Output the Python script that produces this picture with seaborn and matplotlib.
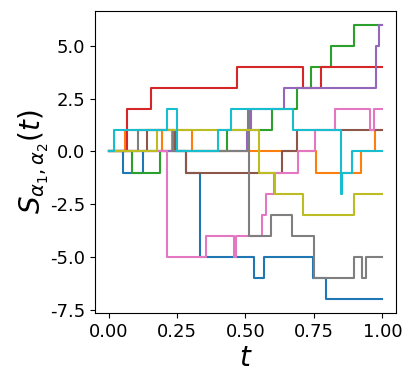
import numpy as np
import pandas as pd
import matplotlib
matplotlib.use("Agg")
import matplotlib.pyplot as plt
import seaborn as sns

# jump times and the value reached after each jump (value 0 at t=0)
blue_t   = [0.051, 0.124, 0.283, 0.333, 0.530, 0.569, 0.748, 0.796]
blue_v   = [-1, 0, -1, -5, -6, -5, -6, -7]
orange_t = [0.061, 0.196, 0.230, 0.305, 0.757, 0.922, 0.972]
orange_v = [1, 0, 1, 0, -1, 0, 1]
green_t  = [0.087, 0.187, 0.433, 0.596, 0.690, 0.738, 0.811, 0.896]
green_v  = [-1, 0, 1, 2, 3, 4, 5, 6]
red_t    = [0.067, 0.154, 0.469, 0.711, 0.775]
red_v    = [2, 3, 4, 3, 4]
purple_t = [0.505, 0.520, 0.639, 0.978, 0.988]
purple_v = [1, 2, 3, 5, 6]
brown_t  = [0.139, 0.241, 0.281, 0.633, 0.689]
brown_v  = [1, 0, -1, 0, 1]
pink_t   = [0.212, 0.357, 0.458, 0.466, 0.560, 0.576, 0.606, 0.693, 0.754, 0.827, 0.954, 0.968]
pink_v   = [-5, -4, -5, -4, -3, -2, -1, 0, 1, 2, 1, 2]
gray_t   = [0.108, 0.236, 0.509, 0.512, 0.593, 0.671, 0.750, 0.897, 0.927, 0.939]
gray_v   = [1, 0, 2, -4, -3, -4, -6, -5, -6, -5]
olive_t  = [0.176, 0.551, 0.608, 0.709, 0.897]
olive_v  = [1, -1, -2, -3, -2]
cyan_t   = [0.020, 0.212, 0.250, 0.400, 0.446, 0.673, 0.848, 0.851, 0.890]
cyan_v   = [1, 2, 0, 1, 2, 1, -2, -1, 0]

series = [(blue_t, blue_v), (orange_t, orange_v), (green_t, green_v),
          (red_t, red_v), (purple_t, purple_v), (brown_t, brown_v),
          (pink_t, pink_v), (gray_t, gray_v), (olive_t, olive_v),
          (cyan_t, cyan_v)]

xtick_vals = [0.0, 0.25, 0.5, 0.75, 1.0]
xtick_labels = ["0.00", "0.25", "0.50", "0.75", "1.00"]
ytick_vals = [-7.5, -5.0, -2.5, 0.0, 2.5, 5.0]
ytick_labels = ["-7.5", "-5.0", "-2.5", "0.0", "2.5", "5.0"]

rows = []
for k, (ts, vs) in enumerate(series):
    times = [0.0] + list(ts) + [1.0]
    vals = [0] + list(vs) + [vs[-1]]
    for t, v in zip(times, vals):
        rows.append({"t": t, "S": v, "run": k})
df = pd.DataFrame(rows)

fig = plt.figure(figsize=(4.11, 3.74), dpi=100)
ax = fig.add_axes([0.231, 0.163, 0.7325, 0.8076])
sns.lineplot(data=df, x="t", y="S", hue="run", palette="tab10",
             estimator=None, sort=False, legend=False, ax=ax,
             drawstyle="steps-post", linewidth=1.5)
ax.set_xlim(-0.05, 1.05)
ax.set_ylim(-7.65, 6.65)
ax.set_xticks(xtick_vals)
ax.set_xticklabels(xtick_labels)
ax.set_yticks(ytick_vals)
ax.set_yticklabels(ytick_labels)
ax.tick_params(labelsize=13)
ax.set_xlabel("$t$", fontsize=20, labelpad=2)
ax.set_ylabel(r"$S_{\alpha_1,\alpha_2}(t)$", fontsize=20, labelpad=-1)
fig.savefig("out.png", dpi=100)
